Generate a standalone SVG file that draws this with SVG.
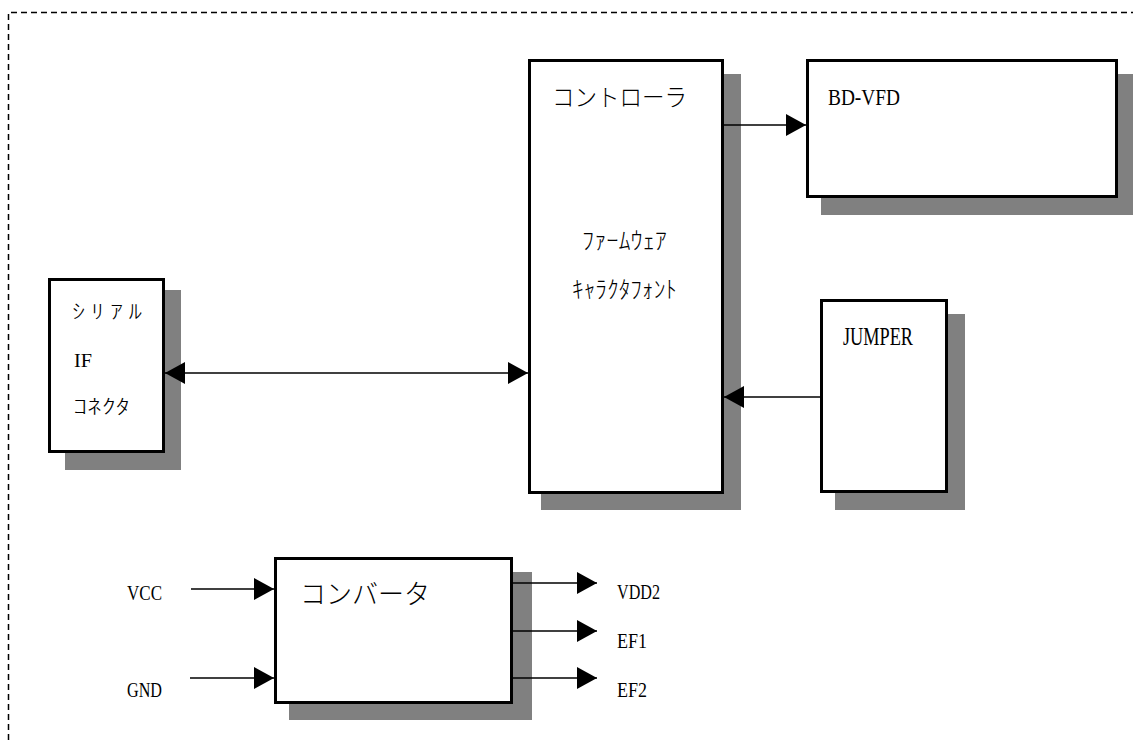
<svg xmlns="http://www.w3.org/2000/svg" width="1133" height="740" viewBox="0 0 1133 740">
<style>
.box{fill:#fff;stroke:#000;stroke-width:3}
.sh{fill:#808080}
.ln{stroke:#000;stroke-width:1.5;fill:none}
.lat{font-family:"Liberation Serif",serif;fill:#000}
.jp{font-family:"Noto Sans CJK JP","Noto Sans CJK SC",sans-serif;fill:#000;font-weight:300}
.border{fill:none;stroke:#000;stroke-width:1.5;stroke-dasharray:6 4}
</style>
<defs>
<marker id="ah" markerWidth="20" markerHeight="22" refX="20" refY="11" orient="auto" markerUnits="userSpaceOnUse">
<path d="M0,0 L20,11 L0,22 Z" fill="#000"/>
</marker>
<marker id="ahs" markerWidth="20" markerHeight="22" refX="0" refY="11" orient="auto" markerUnits="userSpaceOnUse">
<path d="M20,0 L0,11 L20,22 Z" fill="#000"/>
</marker>
</defs>
<rect width="1133" height="740" fill="#fff"/>
<path class="border" d="M8.5,740 L8.5,12.5 L1133,12.5"/>

<g id="serial">
<rect class="sh" x="65" y="290" width="116" height="180"/>
<rect class="box" x="49.5" y="279.5" width="114" height="172"/>
<text class="jp" x="72" y="319" font-size="20" textLength="70" lengthAdjust="spacingAndGlyphs">ｼ ﾘ ｱ ﾙ</text>
<text class="lat" x="74" y="367" font-size="18" textLength="18" lengthAdjust="spacingAndGlyphs">IF</text>
<text class="jp" x="73" y="414" font-size="20" textLength="57" lengthAdjust="spacingAndGlyphs">ｺﾈｸﾀ</text>
</g>

<g id="controller">
<rect class="sh" x="541" y="74" width="200" height="436"/>
<rect class="box" x="529.5" y="60.5" width="193" height="432"/>
<text class="jp" x="552" y="106" font-size="24" textLength="135" lengthAdjust="spacingAndGlyphs">コントローラ</text>
<text class="jp" x="582" y="249" font-size="24" textLength="85" lengthAdjust="spacingAndGlyphs">ﾌｧｰﾑｳｪｱ</text>
<text class="jp" x="572" y="298" font-size="24" textLength="105" lengthAdjust="spacingAndGlyphs">ｷｬﾗｸﾀﾌｫﾝﾄ</text>
</g>

<g id="bdvfd">
<rect class="sh" x="821" y="74" width="312" height="141"/>
<rect class="box" x="807.5" y="60.5" width="309" height="136"/>
<text class="lat" x="828" y="105" font-size="24" textLength="72" lengthAdjust="spacingAndGlyphs">BD-VFD</text>
</g>

<g id="jumper">
<rect class="sh" x="835" y="314" width="130" height="196"/>
<rect class="box" x="821.5" y="300.5" width="125" height="191"/>
<text class="lat" x="843" y="345" font-size="25" textLength="70" lengthAdjust="spacingAndGlyphs">JUMPER</text>
</g>

<g id="converter">
<rect class="sh" x="289" y="572" width="243" height="148"/>
<rect class="box" x="275.5" y="558.5" width="236" height="144"/>
<text class="jp" x="300" y="604" font-size="27" textLength="130" lengthAdjust="spacingAndGlyphs">コンバータ</text>
</g>

<g id="labels">
<text class="lat" x="127" y="600" font-size="22" textLength="35" lengthAdjust="spacingAndGlyphs">VCC</text>
<text class="lat" x="127" y="697" font-size="22" textLength="35" lengthAdjust="spacingAndGlyphs">GND</text>
<text class="lat" x="617" y="599" font-size="22" textLength="43" lengthAdjust="spacingAndGlyphs">VDD2</text>
<text class="lat" x="617" y="648" font-size="22" textLength="30" lengthAdjust="spacingAndGlyphs">EF1</text>
<text class="lat" x="617" y="697" font-size="22" textLength="30" lengthAdjust="spacingAndGlyphs">EF2</text>
</g>

<g id="connectors">
<line class="ln" x1="724" y1="125" x2="806" y2="125" marker-end="url(#ah)"/>
<line class="ln" x1="165" y1="373" x2="528" y2="373" marker-start="url(#ahs)" marker-end="url(#ah)"/>
<line class="ln" x1="820" y1="397" x2="724" y2="397" marker-end="url(#ah)"/>
<line class="ln" x1="191" y1="589" x2="274" y2="589" marker-end="url(#ah)"/>
<line class="ln" x1="190" y1="678" x2="274" y2="678" marker-end="url(#ah)"/>
<line class="ln" x1="513" y1="583" x2="597" y2="583" marker-end="url(#ah)"/>
<line class="ln" x1="513" y1="631" x2="597" y2="631" marker-end="url(#ah)"/>
<line class="ln" x1="513" y1="678" x2="597" y2="678" marker-end="url(#ah)"/>
</g>
</svg>
